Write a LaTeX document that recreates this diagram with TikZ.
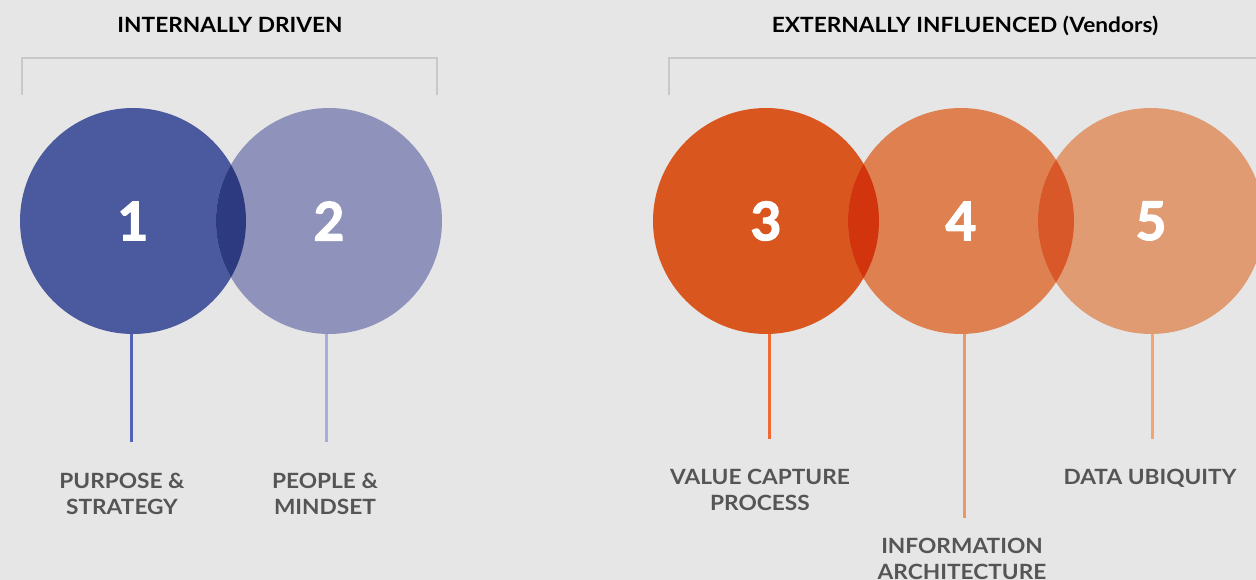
\documentclass[tikz,border=0pt]{standalone}
\usepackage{fontspec}
\setmainfont{Lato}
\newfontfamily\numfont[UprightFont={* Bold},UprightFeatures={FakeBold=2.5}]{Lato}
\newfontfamily\widefont[FakeStretch=1.08]{Lato}
\usepackage{xcolor}
\usepackage{tikz}

\definecolor{bg}{HTML}{E6E6E6}
\definecolor{bracketgray}{HTML}{C8C8C8}
\definecolor{labelgray}{HTML}{555555}
\definecolor{col1}{HTML}{4B5A9E}
\definecolor{col2}{HTML}{8F93BB}
\definecolor{col3}{HTML}{D9561E}
\definecolor{col4}{HTML}{DE804F}
\definecolor{col5}{HTML}{E09B73}
\definecolor{ov12}{HTML}{2E3A80}
\definecolor{ov34}{HTML}{D2350D}
\definecolor{ov45}{HTML}{D9582A}
\definecolor{stem1}{HTML}{5262B6}
\definecolor{stem2}{HTML}{A8ACDA}
\definecolor{stem3}{HTML}{F06A35}
\definecolor{stem4}{HTML}{F39466}
\definecolor{stem5}{HTML}{F3A374}

\begin{document}
\begin{tikzpicture}[x=1pt,y=-1pt]
\tikzstyle{ring} = [circle,minimum size=226pt,inner sep=0,text=white,font=\numfont\fontsize{53}{53}\selectfont];
\tikzstyle{title} = [font=\widefont\bfseries\fontsize{21}{26}\selectfont,text=black,anchor=base];
\tikzstyle{label} = [font=\widefont\bfseries\fontsize{21}{26}\selectfont,text=labelgray,align=center,anchor=north,inner sep=0];
\tikzstyle{stem} = [line width=3pt];
\tikzstyle{bracket} = [line width=2.5pt,draw=bracketgray];
\useasboundingbox (0,0) rectangle (1256,580);
\clip (0,0) rectangle (1256,580);
\fill[bg] (0,0) rectangle (1256,580);

\node [title] (t1) at (230,33) {INTERNALLY DRIVEN};
\node [title] (t2) at (965,33) {EXTERNALLY INFLUENCED (Vendors)};

% brackets
\coordinate (b1) at (22,95);
\coordinate (b2) at (437,95);
\coordinate (b3) at (669,95);
\coordinate (b4) at (1270,58);
\draw [bracket] (b1) |- (230,58) -| (b2);
\draw [bracket] (b3) |- (b4);

% stem ends
\coordinate (e1) at (131,442);
\coordinate (e2) at (326,442);
\coordinate (e3) at (769,439);
\coordinate (e4) at (964,518);
\coordinate (e5) at (1152,439);

\node [ring,fill=col1] (c1) at (133,221) {1};
\node [ring,fill=col2] (c2) at (329,221) {2};
\node [ring,fill=col3] (c3) at (766,221) {3};
\node [ring,fill=col4] (c4) at (961,221) {4};
\node [ring,fill=col5] (c5) at (1151,221) {5};

\begin{scope}
\clip (c1.center) circle (113pt);
\fill [ov12] (c2.center) circle (113pt);
\end{scope}
\begin{scope}
\clip (c3.center) circle (113pt);
\fill [ov34] (c4.center) circle (113pt);
\end{scope}
\begin{scope}
\clip (c4.center) circle (113pt);
\fill [ov45] (c5.center) circle (113pt);
\end{scope}

\draw [stem,stem1] (e1 |- c1.south) -- (e1);
\draw [stem,stem2] (e2 |- c2.south) -- (e2);
\draw [stem,stem3] (e3 |- c3.south) -- (e3);
\draw [stem,stem4] (e4 |- c4.south) -- (e4);
\draw [stem,stem5] (e5 |- c5.south) -- (e5);

\node [label] (l1) at (122,473) {PURPOSE \&\\STRATEGY};
\node [label] (l2) at (325,473) {PEOPLE \&\\MINDSET};
\node [label] (l3) at (760,469) {VALUE CAPTURE\\PROCESS};
\node [label] (l4) at (962,538) {INFORMATION\\ARCHITECTURE};
\node [label] (l5) at (1150,469) {DATA UBIQUITY};
\end{tikzpicture}
\end{document}
